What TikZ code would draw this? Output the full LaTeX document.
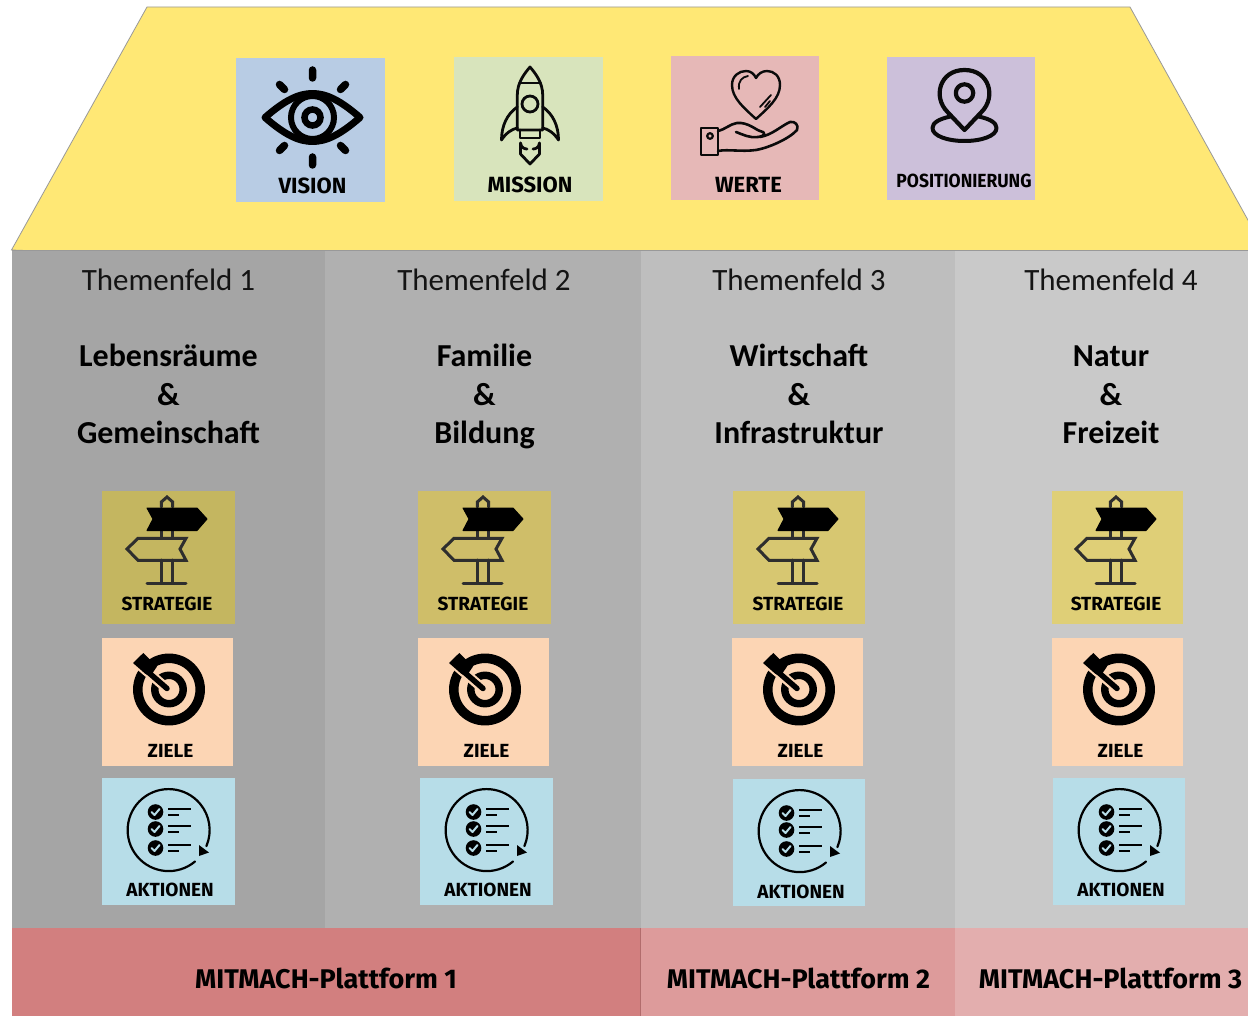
\documentclass[tikz,border=0pt]{standalone}
\usepackage{fontspec}
\setmainfont{Carlito}
\newfontfamily\iconfont{Fira Sans}
\newfontfamily\posfont{Fira Sans}[FakeStretch=0.92]
\definecolor{roof}{HTML}{FFE875}
\definecolor{cola}{HTML}{A5A5A5}
\definecolor{colb}{HTML}{B0B0B0}
\definecolor{colc}{HTML}{BEBEBE}
\definecolor{cold}{HTML}{C9C9C9}
\definecolor{visionc}{HTML}{B8CCE4}
\definecolor{missionc}{HTML}{D8E4BC}
\definecolor{wertec}{HTML}{E6B8B7}
\definecolor{posc}{HTML}{CCC0DA}
\definecolor{zielec}{HTML}{FCD5B4}
\definecolor{aktionc}{HTML}{B7DDE8}
\definecolor{stra}{HTML}{C4B660}
\definecolor{strb}{HTML}{CFBE69}
\definecolor{strc}{HTML}{D7C771}
\definecolor{strd}{HTML}{DFCF77}
\definecolor{plata}{HTML}{D27F7F}
\definecolor{platb}{HTML}{DD9B9B}
\definecolor{platc}{HTML}{E3AEAE}
\definecolor{icong}{HTML}{0A0A0A}
\definecolor{signg}{HTML}{2E2E2E}
\tikzset{
  x=1pt,y=-1pt,
  lab/.style={font=\iconfont\bfseries\fontsize{22}{22}\selectfont,inner sep=0pt,text=black},
  slab/.style={font=\iconfont\bfseries\fontsize{19}{20}\selectfont,inner sep=0pt,text=black},
  plab/.style={font=\posfont\bfseries\fontsize{19}{20}\selectfont,inner sep=0pt,text=black},
  themehead/.style={font=\fontsize{31}{31}\selectfont,inner sep=0pt,text=black!92},
  themetitle/.style={font=\bfseries\fontsize{32}{38.6}\selectfont,align=center,inner sep=0pt,text=black},
  platlab/.style={font=\iconfont\bfseries\fontsize{27}{27}\selectfont,inner sep=0pt,text=black},
  ico/.style={draw=icong,line width=#1,line cap=round,line join=round,fill=none},
  ico/.default=3pt,
  signline/.style={draw=signg,line width=3pt,line cap=round,line join=miter,fill=none},
  pics/signpost/.style={code={
    \draw[signline] (-5.7,-27) -- (-5.7,-32) -- (0,-37) -- (5.7,-32) -- (5.7,-27);
    \draw[signline] (-5.7,-3) -- (-5.7,4) (5.7,-3) -- (5.7,4);
    \draw[signline] (-5.7,26) -- (-5.7,49) (5.7,26) -- (5.7,49);
    \draw[signline] (-20,49.5) -- (19,49.5);
    \fill[black,draw=black,line width=1pt,line join=round] (-20,-26) -- (30,-26) -- (40,-15) -- (30,-3.5) -- (-20,-3.5) -- (-14,-15) -- cycle;
    \draw[signline] (19,4.3) -- (-29,4.3) -- (-40,15) -- (-29,26.3) -- (19,26.3) -- (13,15) -- cycle;
  }},
  pics/target/.style={code={
    \draw[black,line width=9.5pt] (0,0) circle (31.2);
    \draw[black,line width=7.5pt] (0,0) circle (14.2);
    \draw[#1,line width=10pt] (-30,-25) -- (-1,0);
    \draw[black,line width=5.5pt,line cap=round] (-25,-21) -- (-2,-1);
    \fill[black] (-36,-26.5) -- (-25.7,-36.5) -- (-12,-23) -- (-18.7,-13) -- (-24,-16) -- cycle;
  }},
}
\begin{document}
\begin{tikzpicture}
\useasboundingbox (0,0) rectangle (1248,1016);
\clip (0,0) rectangle (1248,1016);
\fill[white] (0,0) rectangle (1248,1016);
\fill[roof,draw=black!40,line width=.8pt] (11.5,250) -- (147,7) -- (1130,7) -- (1290,296) -- cycle;
\fill[cola] (11.5,250) rectangle (325,930);
\fill[colb] (325,250) rectangle (641,930);
\fill[colc] (641,250) rectangle (955,930);
\fill[cold] (955,250) rectangle (1248,930);
\draw[black!40,line width=.8pt] (11.5,250) -- (1248,250);
\fill[plata] (11.5,928) rectangle (641,1016);
\fill[platb] (641,928) rectangle (955,1016);
\fill[platc] (955,928) rectangle (1248,1016);
\draw[plata!85!black,line width=1pt] (640.5,928) -- (640.5,1016);
% top cards
\node[fill=visionc,minimum width=149pt,minimum height=144pt,inner sep=0pt,anchor=north west] (vision) at (236,58) {};
\node[fill=missionc,minimum width=149pt,minimum height=144pt,inner sep=0pt,anchor=north west] (mission) at (454,57) {};
\node[fill=wertec,minimum width=148pt,minimum height=144pt,inner sep=0pt,anchor=north west] (werte) at (671,56) {};
\node[fill=posc,minimum width=148pt,minimum height=143pt,inner sep=0pt,anchor=north west] (pos) at (887,57) {};
\node[lab] (visionlab) at (312.5,185.5) {VISION};
\node[lab] (missionlab) at (530,184.5) {MISSION};
\node[lab] (wertelab) at (748.5,184.5) {WERTE};
\node[plab] (poslab) at (964,181) {POSITIONIERUNG};
% eye
\begin{scope}[shift={(312.5,117.5)}]
\draw[black,line width=7pt,line join=round] (-47.5,0) .. controls (-28,-17) and (-14,-24) .. (0,-24) .. controls (14,-24) and (28,-17) .. (47.5,0) .. controls (28,17) and (14,24) .. (0,24) .. controls (-14,24) and (-28,17) .. (-47.5,0) -- cycle;
\draw[black,line width=6pt] (0,0) circle (21.5);
\draw[black,line width=6.5pt] (0,0) circle (8);
\draw[black,line width=7.5pt,line cap=round] (0,-47.5) -- (0,-39.5) (0,39.5) -- (0,47.5) (-33,-33) -- (-28,-28) (33,-33) -- (28,-28) (-33,33) -- (-28,28) (33,33) -- (28,28);
\end{scope}
% rocket
\begin{scope}[shift={(530,117)}]
\draw[ico=2.8pt] (-12.7,-22) .. controls (-12.7,-34) and (-6,-43) .. (0,-50) .. controls (6,-43) and (12.7,-34) .. (12.7,-22) -- (12.7,13) -- (-12.7,13) -- cycle;
\draw[ico=2.8pt] (-10.5,-34) -- (10.5,-34);
\draw[ico=2.8pt] (0,-13) circle (8);
\draw[ico=2.8pt] (-12.7,-10) .. controls (-23,-3) and (-28.5,9) .. (-28.5,23) .. controls (-24,16) and (-18,12) .. (-12.7,11);
\draw[ico=2.8pt] (12.7,-10) .. controls (23,-3) and (28.5,9) .. (28.5,23) .. controls (24,16) and (18,12) .. (12.7,11);
\draw[ico=2.8pt] (-10,13) -- (-10,21) -- (10,21) -- (10,13);
\draw[ico=2.8pt] (-9.5,26) -- (-9.5,37) -- (0,47) -- (9.5,37) -- (9.5,26);
\draw[ico=2.8pt] (-9.5,26) .. controls (-9,31) and (-5,32) .. (-3,32) (9.5,26) .. controls (9,31) and (5,32) .. (3,32);
\end{scope}
% heart and hand
\begin{scope}[shift={(756,95)}]
\draw[ico=2.4pt] (0,24) .. controls (-12,13) and (-24,3) .. (-24,-10) .. controls (-24,-19) and (-17,-24) .. (-10,-24) .. controls (-5,-24) and (-2,-21) .. (0,-17) .. controls (2,-21) and (6,-24) .. (11,-24) .. controls (18,-24) and (24,-19) .. (24,-10) .. controls (24,3) and (12,13) .. (0,24) -- cycle;
\draw[ico=1.8pt] (-17,-6) .. controls (-18,-14) and (-14,-18) .. (-8,-19);
\draw[ico=1.8pt] (4,12) -- (15,0) (9,12) -- (14,6);
\draw[ico=2.6pt] (-55,33) -- (-38,33) -- (-38,60) -- (-55,60) -- cycle;
\draw[ico=2.2pt] (-46,41) circle (2.8);
\draw[ico=2.6pt] (-38,36) .. controls (-30,34) and (-26,29) .. (-19,28) .. controls (-8,27) and (0,35) .. (4,36) .. controls (10,37) and (10,41) .. (2,42) .. controls (-7,43) and (-12,40) .. (-20,37);
\draw[ico=2.6pt] (4,42) .. controls (16,40) and (25,31) .. (34,27) .. controls (39,26) and (43,30) .. (41,35) .. controls (33,44) and (12,53) .. (0,55) .. controls (-15,57) and (-28,54) .. (-38,56);
\end{scope}
% location pin
\begin{scope}[shift={(964.5,95)}]
\draw[ico=4.2pt] (-17,17) .. controls (-32,2) and (-25,-25) .. (0,-25) .. controls (25,-25) and (32,2) .. (17,17) -- (0,35) -- cycle;
\draw[ico=4.2pt] (0,-2) circle (8.7);
\draw[ico=4pt] (-14,21.5) .. controls (-26,24) and (-32,28) .. (-32,33) .. controls (-32,41) and (-17,46) .. (0,46) .. controls (17,46) and (32,41) .. (32,33) .. controls (32,28) and (26,24) .. (14,21.5);
\end{scope}
% column heads
\node[themehead] (h1) at (168.5,280) {Themenfeld 1};
\node[themehead] (h2) at (484,280) {Themenfeld 2};
\node[themehead] (h3) at (799,280) {Themenfeld 3};
\node[themehead] (h4) at (1111,280) {Themenfeld 4};
\node[themetitle] (t1) at (168.5,397.5) {\strut Lebensräume\\\strut\&\\\strut Gemeinschaft};
\node[themetitle] (t2) at (484.5,397.5) {\strut Familie\\\strut\&\\\strut Bildung};
\node[themetitle] (t3) at (799,397.5) {\strut Wirtschaft\\\strut\&\\\strut Infrastruktur};
\node[themetitle] (t4) at (1111,397.5) {\strut Natur\\\strut\&\\\strut Freizeit};
% strategy cards
\foreach \nm/\xx/\ww/\cc/\ix in {sa/102/133/stra/167,sb/418/133/strb/483,sc/733/132/strc/798,sd/1052/131/strd/1116}{
  \node[fill=\cc,minimum width=\ww pt,minimum height=133pt,inner sep=0pt,anchor=north west] (\nm) at (\xx,491) {};
  \pic at (\ix,534) {signpost};
  \node[slab] (\nm lab) at (\ix,604) {STRATEGIE};
}
% goals
\foreach \nm/\xx/\ww/\ix/\lx in {za/102/131/169/170.5,zb/418/131/485/486.5,zc/732/131/799/800.5,zd/1052/131/1119/1120.5}{
  \node[fill=zielec,minimum width=\ww pt,minimum height=128pt,inner sep=0pt,anchor=north west] (\nm) at (\xx,638) {};
  \pic at (\ix,689.5) {target={zielec}};
  \node[slab] (\nm lab) at (\lx,751) {ZIELE};
}
% actions
\foreach \nm/\xx/\ww/\yy/\hh/\ix/\iy/\ly in {aa/102/133/778/127/169/830/890,ab/420/133/778/127/487/830/890,ac/733/132/779/127/800/831/892,ad/1053/132/778/127/1120/830/890}{
  \node[fill=aktionc,minimum width=\ww pt,minimum height=\hh pt,inner sep=0pt,anchor=north west] (\nm) at (\xx,\yy) {};
  \begin{scope}[shift={(\ix,\iy)}]
    \draw[black,line width=2.2pt,line cap=round] (26,31.5) arc[start angle=50,end angle=383,radius=41];
    \fill[black] (30,15) -- (40,22.5) -- (30,26) -- cycle;
    \foreach \dy in {-18,-1,18}{
      \fill[black] (-13.5,\dy) circle (7.8);
      \draw[aktionc,line width=2pt,line cap=round,line join=round] (-17.5,\dy) -- (-14.5,\dy+3) -- (-9.5,\dy-3);
      \draw[black,line width=2pt] (-1,\dy-3) -- (21.5,\dy-3) (-1,\dy+3) -- (10,\dy+3);
    }
  \end{scope}
  \node[slab] (\nm lab) at (\ix+1,\ly) {AKTIONEN};
}
% platforms
\node[platlab] (p1) at (326,978) {MITMACH-Plattform 1};
\node[platlab] (p2) at (798.5,978) {MITMACH-Plattform 2};
\node[platlab] (p3) at (1110.5,978) {MITMACH-Plattform 3};
\end{tikzpicture}
\end{document}
